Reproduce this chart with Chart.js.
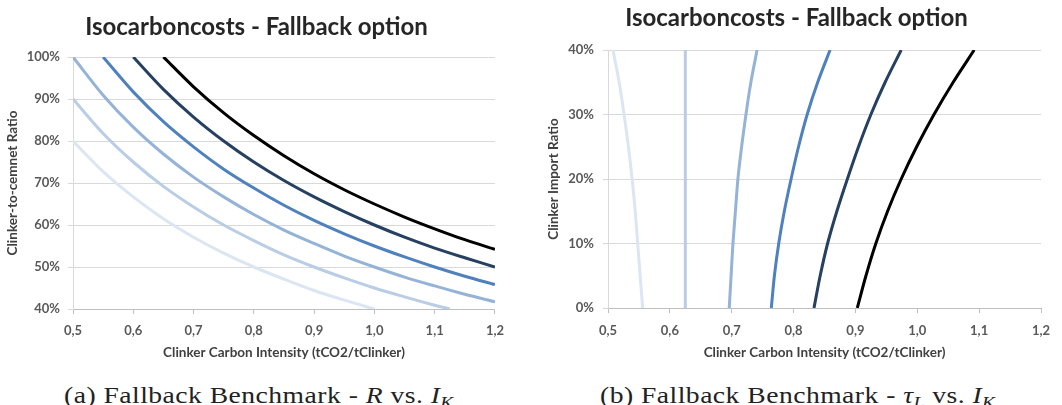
<!DOCTYPE html>
<html>
<head>
<meta charset="utf-8">
<script src="https://cdn.jsdelivr.net/npm/chart.js@4.4.1/dist/chart.umd.min.js"></script>
<style>
  html, body { margin: 0; padding: 0; background: #fff; }
  body { width: 1062px; height: 405px; position: relative; overflow: hidden; }
  canvas { position: absolute; top: 0; }
  #left { left: 0; }
  #right { left: 531px; }
  .caption {
    position: absolute; top: 384px; font-family: "Liberation Serif", serif;
    font-size: 23px; line-height: 23px; letter-spacing: 0.4px; color: #222; white-space: nowrap;
    transform: scaleX(1.2); transform-origin: 0 0;
  }
  .caption i { font-style: italic; }
  .caption sub { font-size: 16px; vertical-align: -5px; line-height: 0; }
</style>
</head>
<body>
<canvas id="left" width="513" height="372"></canvas>
<canvas id="right" width="531" height="372"></canvas>
<div class="caption" style="left:64px">(a) Fallback Benchmark - <i>R</i> vs. <i>I</i><sub><i>K</i></sub></div>
<div class="caption" style="left:600px">(b) Fallback Benchmark - <i>τ</i><sub><i>L</i></sub> vs. <i>I</i><sub><i>K</i></sub></div>
<script>
// shared
const titleText = 'Isocarboncosts - Fallback option';
const xTitle = 'Clinker Carbon Intensity (tCO2/tClinker)';
const lineColors = ['#dce6f2', '#b9cde5', '#95b3d7', '#4f81bd', '#254061', '#000000'];

// (a) clinker-to-cement ratio (%) vs carbon intensity, one curve per cost level
const ratioX1 = [0.50, 0.55, 0.60, 0.65, 0.70, 0.75, 0.80, 0.85, 0.90, 0.95, 1.00];
const ratioY1 = [80.0, 72.7, 66.7, 61.5, 57.1, 53.3, 50.0, 47.1, 44.4, 42.1, 40.0];
const ratioX2 = [0.50, 0.55, 0.60, 0.65, 0.70, 0.75, 0.80, 0.85, 0.90, 0.95, 1.00, 1.05, 1.10, 1.125];
const ratioY2 = [90.0, 81.8, 75.0, 69.2, 64.3, 60.0, 56.3, 52.9, 50.0, 47.4, 45.0, 42.9, 40.9, 40.0];
const ratioX3 = [0.50, 0.55, 0.60, 0.65, 0.70, 0.75, 0.80, 0.85, 0.90, 0.95, 1.00, 1.05, 1.10, 1.15, 1.20];
const ratioY3 = [100, 90.9, 83.3, 76.9, 71.4, 66.7, 62.5, 58.8, 55.6, 52.6, 50.0, 47.6, 45.5, 43.5, 41.7];
const ratioX4 = [0.55, 0.60, 0.65, 0.70, 0.75, 0.80, 0.85, 0.90, 0.95, 1.00, 1.05, 1.10, 1.15, 1.20];
const ratioY4 = [100, 91.7, 84.6, 78.6, 73.3, 68.8, 64.7, 61.1, 57.9, 55.0, 52.4, 50.0, 47.8, 45.8];
const ratioX5 = [0.60, 0.65, 0.70, 0.75, 0.80, 0.85, 0.90, 0.95, 1.00, 1.05, 1.10, 1.15, 1.20];
const ratioY5 = [100, 92.3, 85.7, 80.0, 75.0, 70.6, 66.7, 63.2, 60.0, 57.1, 54.5, 52.2, 50.0];
const ratioX6 = [0.65, 0.70, 0.75, 0.80, 0.85, 0.90, 0.95, 1.00, 1.05, 1.10, 1.15, 1.20];
const ratioY6 = [100, 92.9, 86.7, 81.3, 76.5, 72.2, 68.4, 65.0, 61.9, 59.1, 56.5, 54.2];

// (b) clinker import ratio (%) vs carbon intensity
const importY = [0, 5, 10, 15, 20, 25, 30, 35, 40];
const importX1 = [0.556, 0.552, 0.548, 0.544, 0.539, 0.533, 0.526, 0.518, 0.508];
const importX2 = [0.625, 0.625, 0.625, 0.625, 0.625, 0.625, 0.625, 0.625, 0.625];
const importX3 = [0.696, 0.699, 0.702, 0.706, 0.710, 0.716, 0.723, 0.731, 0.741];
const importX4 = [0.764, 0.769, 0.776, 0.785, 0.796, 0.808, 0.822, 0.839, 0.859];
const importX5 = [0.833, 0.843, 0.855, 0.870, 0.887, 0.905, 0.925, 0.948, 0.974];
const importX6 = [0.903, 0.917, 0.933, 0.952, 0.974, 0.999, 1.027, 1.058, 1.092];

const xTicks = { min: 0.5, max: 1.2, step: 0.1 };

function pairs(xs, ys) {
  return xs.map((x, i) => ({ x: x, y: ys[i] }));
}

function makeDatasets(curves) {
  return curves.map((pts, i) => ({
    data: pts,
    borderColor: lineColors[i],
    borderWidth: 3,
    pointRadius: 0,
    tension: 0.3,
    fill: false
  }));
}

function buildChart(id, opts) {
  const tickFont = { family: 'Lato', size: 13, weight: 'bold' };
  const axisFont = { family: 'Lato', size: 13.5, weight: 'bold' };
  return new Chart(document.getElementById(id), {
    type: 'line',
    data: { datasets: makeDatasets(opts.curves) },
    options: {
      responsive: false,
      animation: false,
      devicePixelRatio: 1,
      layout: { padding: { left: opts.padLeft, right: opts.padRight, top: 0, bottom: 0 } },
      plugins: {
        legend: { display: false },
        tooltip: { enabled: false },
        title: {
          display: true,
          text: titleText,
          color: '#262626',
          font: { family: 'Lato', size: 24, weight: 'bold' },
          padding: { top: opts.titleTop, bottom: opts.titleBottom }
        }
      },
      scales: {
        x: {
          type: 'linear',
          min: xTicks.min,
          max: xTicks.max,
          afterFit: s => { s.height = opts.xHeight; },
          ticks: {
            stepSize: xTicks.step,
            color: '#595959',
            font: tickFont,
            padding: opts.xTickPad,
            callback: v => v.toFixed(1).replace('.', ',')
          },
          grid: { drawOnChartArea: false, drawTicks: true, tickLength: 5, color: '#bfbfbf' },
          border: { color: '#bfbfbf' },
          title: {
            display: true,
            text: xTitle,
            color: '#404040',
            font: axisFont,
            padding: { top: 0, bottom: 11 }
          }
        },
        y: {
          min: opts.yMin,
          max: opts.yMax,
          afterFit: s => { s.width = opts.yWidth; },
          ticks: {
            stepSize: 10,
            color: '#595959',
            font: tickFont,
            padding: opts.yTickPad,
            callback: v => v + '%'
          },
          grid: { color: '#d9d9d9', tickLength: 5 },
          border: { color: '#d9d9d9' },
          title: {
            display: true,
            text: opts.yTitle,
            color: '#404040',
            font: axisFont,
            padding: { top: opts.yTitlePad, bottom: 0 }
          }
        }
      }
    }
  });
}

buildChart('left', {
  curves: [
    pairs(ratioX1, ratioY1), pairs(ratioX2, ratioY2), pairs(ratioX3, ratioY3),
    pairs(ratioX4, ratioY4), pairs(ratioX5, ratioY5), pairs(ratioX6, ratioY6)
  ],
  padLeft: 12,
  padRight: 12,
  titleTop: 12.6,
  titleBottom: 15.6,
  xHeight: 63,
  xTickPad: 9,
  yMin: 40,
  yMax: 100,
  yWidth: 61,
  yTickPad: 8,
  yTitle: 'Clinker-to-cemnet Ratio',
  yTitlePad: -7
});

buildChart('right', {
  curves: [
    pairs(importX1, importY), pairs(importX2, importY), pairs(importX3, importY),
    pairs(importX4, importY), pairs(importX5, importY), pairs(importX6, importY)
  ],
  padLeft: 21,
  padRight: 21,
  titleTop: 3.6,
  titleBottom: 17.6,
  xHeight: 64,
  xTickPad: 10,
  yMin: 0,
  yMax: 40,
  yWidth: 56,
  yTickPad: 9,
  yTitle: 'Clinker Import Ratio',
  yTitlePad: -6
});
</script>
</body>
</html>
